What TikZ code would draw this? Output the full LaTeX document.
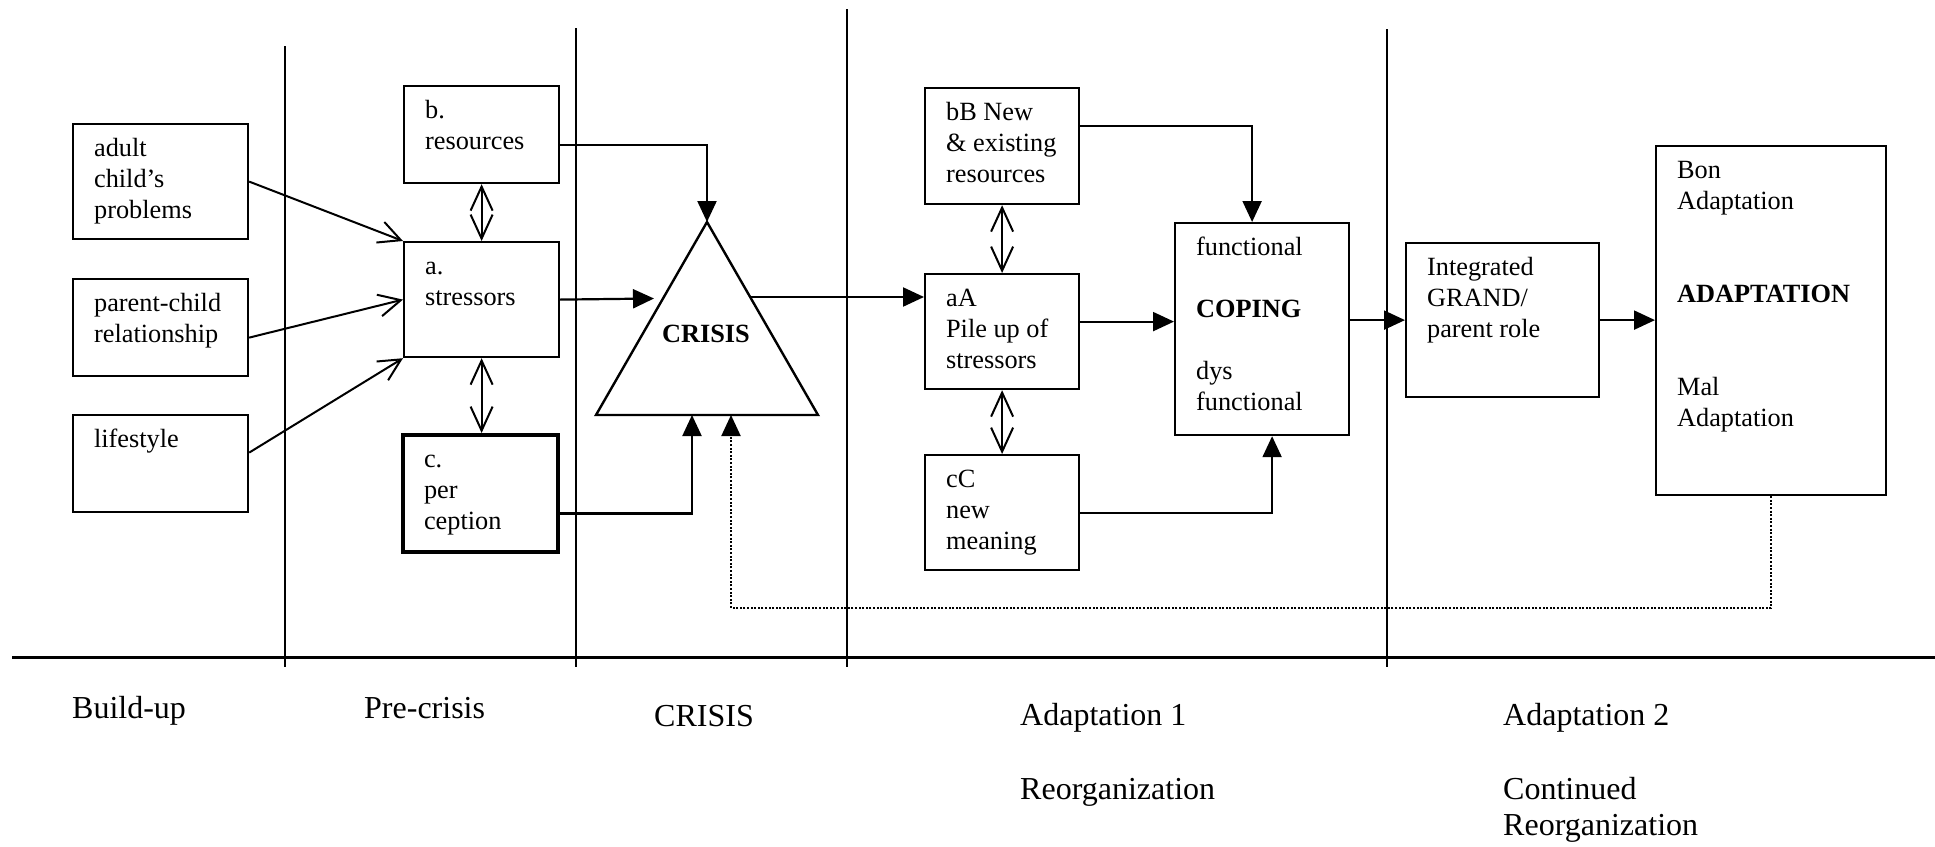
\documentclass[tikz,border=0pt]{standalone}
\usepackage{fontspec}
\setmainfont{Liberation Serif}
\usetikzlibrary{arrows.meta}
\newcommand\boxfont{\fontsize{26.3}{31}\selectfont}
\newcommand\phasefont{\fontsize{32}{37}\selectfont}
\tikzset{
  box/.style={draw, line width=2.2pt, inner sep=0pt, font=\boxfont},
  conn/.style={line width=2.2pt, -{Triangle[length=21pt,width=19pt]}},
  barb/.style={line width=2pt, -{Straight Barb[length=22pt,width=22pt]}},
  dbarb/.style={line width=2pt, {Straight Barb[length=24pt,width=22pt]}-{Straight Barb[length=24pt,width=22pt]}},
  sep/.style={line width=2pt},
  fbk/.style={line width=2pt, dash pattern=on 2pt off 1.6pt, -{Triangle[length=21pt,width=19pt]}},
  phase/.style={anchor=base west, inner sep=0pt, font=\phasefont},
}
% #1 extra style, #2 name, #3 x1, #4 y1, #5 x2, #6 y2, #7 text
\newcommand{\bx}[7][]{%
  \node[box,#1,anchor=north west,minimum width={#5-#3},minimum height={#6-#4}] (#2) at (#3,#4)
   {\parbox[c][\dimexpr#6pt-#4pt\relax][t]{\dimexpr#5pt-#3pt\relax}{\leftskip=21pt\rule{0pt}{32pt}#7}};}
\begin{document}
\begin{tikzpicture}[x=1pt,y=-1pt]
\useasboundingbox (0,0) rectangle (1935,846);
% phase separators
\draw[sep] (285,46) -- (285,667);
\draw[sep] (576,28) -- (576,667);
\draw[sep] (847,9) -- (847,667);
\draw[sep] (1387,29) -- (1387,667);
\draw[line width=3pt] (12,657) -- (1935,657);
% boxes
\bx{adult}{72}{123}{247}{238}{adult\\child's\\problems}
\bx{parent}{72}{278}{247}{375}{parent-child\\relationship}
\bx{life}{72}{414}{247}{511}{lifestyle}
\bx{b}{403}{85}{558}{182}{b.\\resources}
\bx{a}{403}{241}{558}{356}{a.\\stressors}
\bx[line width=4pt]{c}{401}{433}{556}{550}{c.\\per\\ception}
\bx{bB}{924}{87}{1078}{203}{bB New\\\& existing\\resources}
\bx{aA}{924}{273}{1078}{388}{aA\\Pile up of\\stressors}
\bx{cC}{924}{454}{1078}{569}{cC\\new\\meaning}
\bx{coping}{1174}{222}{1348}{434}{functional\\[31pt]\textbf{COPING}\\[31pt]dys\\functional}
\bx{integ}{1405}{242}{1598}{396}{Integrated\\GRAND/\\parent role}
\bx{adapt}{1655}{145}{1885}{494}{Bon\\Adaptation\\[62pt]\textbf{ADAPTATION}\\[62pt]Mal\\Adaptation}
% crisis triangle
\coordinate (triTop) at (707,222);
\coordinate (triL) at (596,415);
\coordinate (triR) at (818,415);
\coordinate (triIn) at (654,298.5);
\coordinate (triOut) at (750,297);
\coordinate (triB1) at (692,415);
\coordinate (triB2) at (731,415);
\coordinate (fb) at (731,608);
\draw[line width=2.4pt, line join=miter] (triTop) -- (triL) -- (triR) -- cycle;
\node[anchor=base, inner sep=0pt, font=\boxfont\bfseries] (crisis) at (706,342) {CRISIS};
% build-up arrows
\draw[barb] (adult.east) -- (a.north west);
\draw[barb] ([yshift=-10pt]parent.east) -- (a.west);
\draw[barb] ([yshift=11pt]life.east) -- (a.south west);
% pre-crisis
\draw[dbarb] (b.south) -- (a.north);
\draw[dbarb] (a.south) -- (a.south |- c.north);
\draw[conn] ([yshift=-10pt]b.east) -| (triTop);
\draw[conn] (a.east) -- (triIn);
\draw[conn] ([yshift=-20pt]c.east) -| (triB1);
% adaptation 1
\draw[conn] (triOut) -- (triOut -| aA.west);
\draw[dbarb] (bB.south) -- (aA.north);
\draw[dbarb] (aA.south) -- (cC.north);
\coordinate (aAo) at ([yshift=10pt]aA.east);
\draw[conn] (aAo) -- (aAo -| coping.west);
\draw[conn] ([yshift=20pt]bB.east) -| ([xshift=-10pt]coping.north);
\draw[conn] (cC.east) -| ([xshift=10pt]coping.south);
% adaptation 2
\draw[conn] (integ.west -| coping.east) -- (integ.west);
\draw[conn] (integ.east) -- (integ.east -| adapt.west);
\draw[fbk] (adapt.south) |- (fb) -- (triB2);
% phase labels
\node[phase] (l1) at (72,718) {Build-up};
\node[phase] (l2) at (364,718) {Pre-crisis};
\node[phase] (l3) at (654,726) {CRISIS};
\node[phase] (l4) at (1020,725) {Adaptation 1};
\node[phase] (l5) at (1020,799) {Reorganization};
\node[phase] (l6) at (1503,725) {Adaptation 2};
\node[phase] (l7) at (1503,799) {Continued};
\node[phase] (l8) at (1503,835) {Reorganization};
\end{tikzpicture}
\end{document}
